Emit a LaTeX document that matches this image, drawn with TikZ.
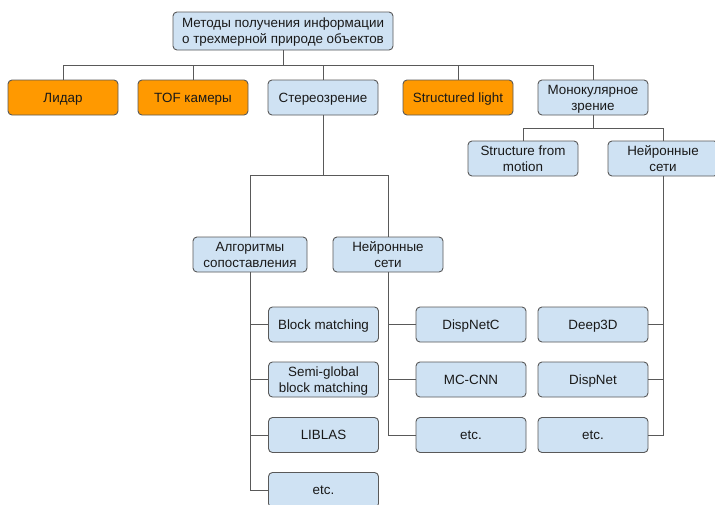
\documentclass[tikz,border=0pt]{standalone}
\usepackage{fontspec}
\setmainfont{Liberation Sans}
\definecolor{boxblue}{HTML}{CFE2F3}
\definecolor{boxorange}{HTML}{FF9900}
\definecolor{edgegray}{HTML}{595959}
\begin{document}
\begin{tikzpicture}[x=1pt,y=-1pt,
  box/.style={draw=edgegray, line width=0.9pt, rounded corners=4pt, fill=boxblue,
    minimum width=110pt, minimum height=35pt, inner sep=1pt, align=center,
    text depth=0pt,
    font=\fontsize{13.4}{15.8}\selectfont, text=black!90},
  obox/.style={box, fill=boxorange},
  link/.style={draw=edgegray, line width=0.9pt}]
\useasboundingbox (0,0) rectangle (715,504);
\fill[white] (0,0) rectangle (715,504);
% top
\node[box, minimum width=220pt, minimum height=38pt] (top) at (283,31) {Методы получения информации\\о трехмерной природе объектов};
% row 2
\node[obox] (lidar) at (63,97.5) {Лидар};
\node[obox] (tof) at (193,97.5) {TOF камеры};
\node[box] (stereo) at (323,97.5) {Стереозрение};
\node[obox] (struct) at (458,97.5) {Structured light};
\node[box] (mono) at (593,97.5) {Монокулярное\\зрение};
% mono children
\node[box] (sfm) at (523,158.5) {Structure from\\motion};
\node[box] (mnn) at (663,158.5) {Нейронные\\сети};
% stereo children
\node[box, minimum width=114pt] (alg) at (250,254.5) {Алгоритмы\\сопоставления};
\node[box] (snn) at (388,254.5) {Нейронные\\сети};
% algorithm leaves
\node[box] (bm) at (323.5,324.5) {Block matching};
\node[box] (sgbm) at (323.5,379.5) {Semi-global\\block matching};
\node[box] (liblas) at (323.5,435) {LIBLAS};
\node[box] (aetc) at (323.5,490) {etc.};
% stereo nn leaves
\node[box] (dnc) at (471,324.5) {DispNetC};
\node[box] (mccnn) at (471,379.5) {MC-CNN};
\node[box] (setc) at (471,435) {etc.};
% mono nn leaves
\node[box] (d3d) at (593,324.5) {Deep3D};
\node[box] (dn) at (593,379.5) {DispNet};
\node[box] (metc) at (593,435) {etc.};
% connectors
\coordinate (bar1) at (0,65);
\draw[link] (top.south) -- (top.south |- bar1);
\draw[link] (lidar.north) -- (lidar.north |- bar1) -- (mono.north |- bar1) -- (mono.north);
\draw[link] (tof.north) -- (tof.north |- bar1);
\draw[link] (stereo.north) -- (stereo.north |- bar1);
\draw[link] (struct.north) -- (struct.north |- bar1);
\coordinate (bar2) at (0,128);
\draw[link] (mono.south) -- (mono.south |- bar2);
\draw[link] (sfm.north) -- (sfm.north |- bar2) -- (mnn.north |- bar2) -- (mnn.north);
\coordinate (bar3) at (0,175);
\draw[link] (stereo.south) -- (stereo.south |- bar3);
\draw[link] (alg.north) -- (alg.north |- bar3) -- (snn.north |- bar3) -- (snn.north);
% algorithm tree
\draw[link] (alg.south) -- (alg.south |- aetc.west) -- (aetc.west);
\draw[link] (alg.south |- bm.west) -- (bm.west);
\draw[link] (alg.south |- sgbm.west) -- (sgbm.west);
\draw[link] (alg.south |- liblas.west) -- (liblas.west);
% stereo nn tree
\draw[link] (snn.south) -- (snn.south |- setc.west) -- (setc.west);
\draw[link] (snn.south |- dnc.west) -- (dnc.west);
\draw[link] (snn.south |- mccnn.west) -- (mccnn.west);
% mono nn tree
\draw[link] (mnn.south) -- (mnn.south |- metc.east) -- (metc.east);
\draw[link] (mnn.south |- d3d.east) -- (d3d.east);
\draw[link] (mnn.south |- dn.east) -- (dn.east);
\end{tikzpicture}
\end{document}
